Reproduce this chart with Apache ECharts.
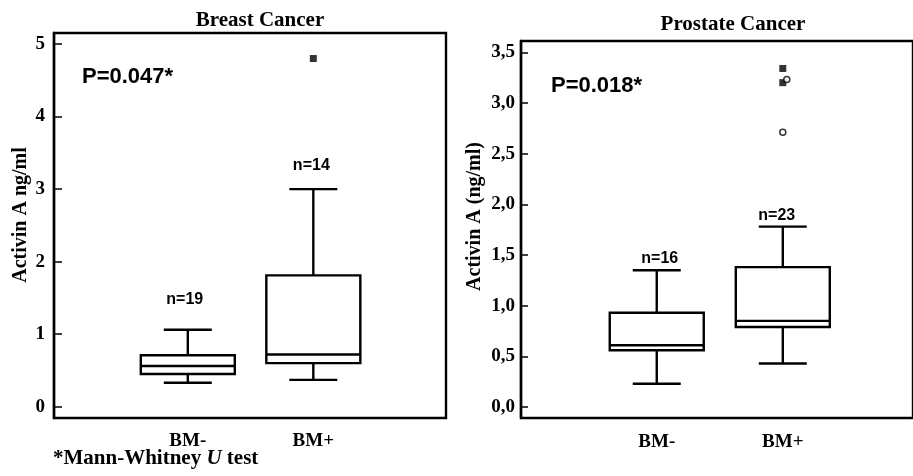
<!DOCTYPE html>
<html><head><meta charset="utf-8">
<script src="https://cdn.jsdelivr.net/npm/echarts@6/dist/echarts.min.js"></script>
<style>html,body{margin:0;padding:0;background:#fff}#c{width:913px;height:476px}</style>
</head><body><div id="c"></div>
<script>
// ---------- data ----------
const categories = ['BM-', 'BM+'];
const panelTitles = ['Breast Cancer', 'Prostate Cancer'];
const yAxisNames = ['Activin A ng/ml', 'Activin A (ng/ml)'];
const pValueTexts = ['P=0.047*', 'P=0.018*'];
const footnoteParts = ['*Mann-Whitney ', 'U', ' test'];
// [whiskerLow, Q1, median, Q3, whiskerHigh]
const breastBoxes = [
  [0.33, 0.45, 0.56, 0.71, 1.06],
  [0.37, 0.60, 0.72, 1.81, 3.00]
];
const prostateBoxes = [
  [0.23, 0.56, 0.61, 0.93, 1.35],
  [0.43, 0.79, 0.85, 1.38, 1.78]
];
const breastN = [19, 14];
const prostateN = [16, 23];
// [category position, value, kind]
const breastOutliers = [[2, 4.80, 'extreme']];
const prostateOutliers = [[2, 3.34, 'extreme'], [2, 3.20, 'extreme'], [2, 3.23, 'outlier'], [2, 2.71, 'outlier']];
const breastTicks = [0, 1, 2, 3, 4, 5];
const breastTickLabels = ['0', '1', '2', '3', '4', '5'];
const prostateTicks = [0, 0.5, 1, 1.5, 2, 2.5, 3, 3.5];
const prostateTickLabels = ['0,0', '0,5', '1,0', '1,5', '2,0', '2,5', '3,0', '3,5'];

// ---------- style ----------
const SERIF = '"Liberation Serif", "Times New Roman", serif';
const SANS = '"Liberation Sans", Arial, sans-serif';
const catPos = categories.map((c, i) => i + 1);

function labelFor(ticks, labels) {
  return v => {
    let best = 0;
    ticks.forEach((t, i) => { if (Math.abs(t - v) < Math.abs(ticks[best] - v)) best = i; });
    return labels[best];
  };
}

function boxSeries(gi, boxes, ns, gaps, dxs) {
  return {
    type: 'custom', xAxisIndex: gi, yAxisIndex: gi, silent: true,
    data: boxes.map((b, i) => [catPos[i]].concat(b, [ns[i]])),
    renderItem: (params, api) => {
      const x = api.value(0);
      const p = k => api.coord([x, api.value(k)]);
      const lo = p(1), q1 = p(2), med = p(3), q3 = p(4), hi = p(5);
      const cx = lo[0], bw = 47, cw = 24;
      const i = params.dataIndex;
      const ls = { stroke: '#000', lineWidth: 2.4, fill: null };
      return { type: 'group', children: [
        { type: 'rect', shape: { x: cx - bw, y: q3[1], width: 2 * bw, height: q1[1] - q3[1] }, style: { stroke: '#000', lineWidth: 2.4, fill: '#fff' } },
        { type: 'line', shape: { x1: cx - bw, y1: med[1], x2: cx + bw, y2: med[1] }, style: ls },
        { type: 'line', shape: { x1: cx, y1: q3[1], x2: cx, y2: hi[1] }, style: ls },
        { type: 'line', shape: { x1: cx, y1: q1[1], x2: cx, y2: lo[1] }, style: ls },
        { type: 'line', shape: { x1: cx - cw, y1: hi[1], x2: cx + cw, y2: hi[1] }, style: ls },
        { type: 'line', shape: { x1: cx - cw, y1: lo[1], x2: cx + cw, y2: lo[1] }, style: ls },
        { type: 'text', x: cx + dxs[i], y: hi[1] - gaps[i], style: { text: 'n=' + api.value(6), fill: '#000', font: 'bold 16px ' + SANS, align: 'center', verticalAlign: 'middle' } }
      ] };
    }
  };
}

function outlierSeries(gi, outs, dxs) {
  return {
    type: 'scatter', xAxisIndex: gi, yAxisIndex: gi, silent: true, z: 5,
    data: outs.map((o, i) => o[2] === 'extreme'
      ? { value: [o[0], o[1]], symbol: 'rect', symbolSize: 7, symbolOffset: [dxs[i], 0], itemStyle: { color: '#000' } }
      : { value: [o[0], o[1]], symbol: 'circle', symbolSize: 6, symbolOffset: [dxs[i], 0], itemStyle: { color: '#fff', borderColor: '#000', borderWidth: 1.5 } })
  };
}

function xAxisFor(gi, min, max, margin) {
  return {
    gridIndex: gi, type: 'value', min: min, max: max, position: 'bottom',
    axisLine: { show: false, onZero: false }, axisTick: { show: false }, splitLine: { show: false },
    axisLabel: { customValues: catPos, formatter: v => categories[Math.round(v) - 1],
      fontFamily: SERIF, fontWeight: 'bold', fontSize: 19, color: '#000', margin: margin }
  };
}

function yAxisFor(gi, min, max, ticks, labels, name, gap, shift, tickLen, margin) {
  return {
    gridIndex: gi, type: 'value', min: min, max: max, position: 'left',
    splitLine: { show: false },
    axisLine: { show: true, onZero: false, lineStyle: { color: '#000', width: 2.4 } },
    axisTick: { show: true, inside: true, length: tickLen, customValues: ticks, lineStyle: { color: '#000', width: 1.5 } },
    axisLabel: { customValues: ticks, formatter: labelFor(ticks, labels),
      fontFamily: SERIF, fontWeight: 'bold', fontSize: 19, color: '#000', margin: margin },
    name: name, nameLocation: 'middle', nameRotate: 90, nameGap: gap,
    nameTextStyle: { fontFamily: SERIF, fontWeight: 'bold', fontSize: 20, color: '#000', padding: [0, 0, 0, shift] }
  };
}

const titleBase = { padding: 0 };
const option = {
  backgroundColor: '#fff',
  animation: false,
  title: [
    Object.assign({ text: panelTitles[0], left: 260, top: 10, textAlign: 'center', textStyle: { fontFamily: SERIF, fontWeight: 'bold', fontSize: 21, color: '#000' } }, titleBase),
    Object.assign({ text: panelTitles[1], left: 733, top: 14, textAlign: 'center', textStyle: { fontFamily: SERIF, fontWeight: 'bold', fontSize: 21, color: '#000' } }, titleBase),
    Object.assign({ text: pValueTexts[0], left: 82, top: 66, textStyle: { fontFamily: SANS, fontWeight: 'bold', fontSize: 22, color: '#000' } }, titleBase),
    Object.assign({ text: pValueTexts[1], left: 551, top: 75, textStyle: { fontFamily: SANS, fontWeight: 'bold', fontSize: 22, color: '#000' } }, titleBase),
    Object.assign({ text: '{a|' + footnoteParts[0] + '}{u|' + footnoteParts[1] + '}{a|' + footnoteParts[2] + '}', left: 53, top: 448,
      textStyle: { rich: {
        a: { fontFamily: SERIF, fontWeight: 'bold', fontSize: 21, color: '#000' },
        u: { fontFamily: SERIF, fontWeight: 'bold', fontStyle: 'italic', fontSize: 21, color: '#000' } } } }, titleBase)
  ],
  grid: [
    { left: 54, top: 33, width: 392, height: 385, show: true, borderColor: '#000', borderWidth: 2.4, backgroundColor: 'transparent' },
    { left: 521, top: 41, width: 395, height: 377, show: true, borderColor: '#000', borderWidth: 2.4, backgroundColor: 'transparent' }
  ],
  xAxis: [
    xAxisFor(0, -0.066, 3.057, 14),
    xAxisFor(1, -0.077, 3.033, 15)
  ],
  yAxis: [
    yAxisFor(0, -0.156, 5.152, breastTicks, breastTickLabels, yAxisNames[0], 23, 21, 8, 9),
    yAxisFor(1, -0.108, 3.611, prostateTicks, prostateTickLabels, yAxisNames[1], 36, 26, 7, 6)
  ],
  series: [
    boxSeries(0, breastBoxes, breastN, [30, 23], [-3, -2]),
    outlierSeries(0, breastOutliers, [0]),
    boxSeries(1, prostateBoxes, prostateN, [12, 11], [3, -6]),
    outlierSeries(1, prostateOutliers, [0, 0, 4, 0])
  ]
};
const chart = echarts.init(document.getElementById('c'), null, { renderer: 'canvas' });
chart.setOption(option);
</script></body></html>
